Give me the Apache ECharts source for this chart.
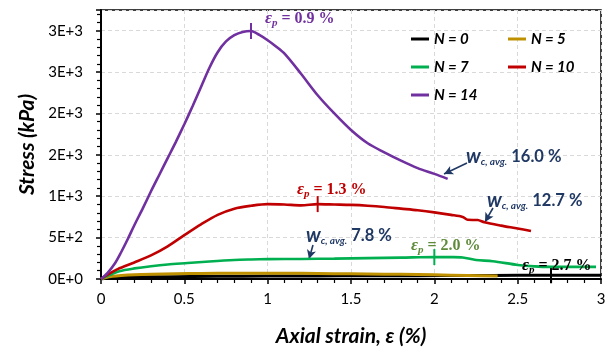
<!DOCTYPE html>
<html><head><meta charset="utf-8">
<script src="https://cdn.jsdelivr.net/npm/echarts@6/dist/echarts.min.js"></script>
<style>html,body{margin:0;padding:0;background:#fff}#c{width:611px;height:354px}</style>
</head><body><div id="c"></div>
<script>
// ---- data ----
const seriesNames = ['N = 0', 'N = 5', 'N = 7', 'N = 10', 'N = 14'];
const seriesColors = ['#000000', '#BF9000', '#00B050', '#C00000', '#7030A0'];

const strainN0 = [0, 0.05, 0.1, 0.2, 0.4, 0.7, 1.0, 1.3, 1.6, 1.9, 2.2, 2.5, 2.7, 2.85, 3.0];
const stressN0 = [0, 12, 18, 24, 28, 32, 35, 37, 39, 40, 42, 44, 45, 45, 45];

const strainN5 = [0, 0.03, 0.07, 0.12, 0.2, 0.3, 0.45, 0.6, 0.8, 1.0, 1.2, 1.4, 1.6, 1.8, 2.0, 2.2, 2.38];
const stressN5 = [0, 18, 32, 42, 52, 58, 63, 67, 70, 70, 68, 64, 60, 56, 50, 42, 35];

const strainN7 = [0, 0.03, 0.06, 0.11, 0.2, 0.3, 0.4, 0.52, 0.65, 0.8, 0.9, 1.0, 1.2, 1.4, 1.6, 1.8, 2.0, 2.1, 2.17, 2.25, 2.35, 2.5, 2.6, 2.7, 2.85, 2.97];
const stressN7 = [0, 30, 55, 95, 128, 155, 176, 193, 212, 230, 236, 240, 242, 246, 252, 258, 265, 264, 260, 230, 215, 170, 152, 146, 146, 146];

const strainN10 = [0, 0.05, 0.1, 0.2, 0.3, 0.4, 0.5, 0.6, 0.7, 0.8, 0.9, 1.0, 1.1, 1.2, 1.3, 1.4, 1.5, 1.6, 1.7, 1.8, 1.9, 2.0, 2.1, 2.17, 2.2, 2.26, 2.3, 2.4, 2.5, 2.58];
const stressN10 = [0, 65, 120, 200, 285, 395, 530, 660, 775, 850, 885, 905, 900, 890, 905, 900, 895, 885, 870, 850, 830, 805, 775, 750, 715, 712, 685, 645, 610, 580];

const strainN14 = [0, 0.04, 0.084, 0.12, 0.16, 0.2, 0.25, 0.3, 0.35, 0.4, 0.45, 0.5, 0.55, 0.6, 0.65, 0.7, 0.75, 0.8, 0.85, 0.9, 0.95, 1.0, 1.05, 1.1, 1.2, 1.3, 1.4, 1.5, 1.6, 1.7, 1.8, 1.9, 2.0, 2.08];
const stressN14 = [0, 75, 190, 320, 480, 650, 850, 1060, 1260, 1460, 1660, 1870, 2090, 2320, 2550, 2740, 2870, 2945, 2985, 2996, 2950, 2885, 2810, 2725, 2480, 2220, 2000, 1800, 1640, 1530, 1430, 1340, 1270, 1210];

const peakSeries = [0, 2, 3, 4];
const peakStrain = [2.7, 2.0, 1.3, 0.9];
const peakStress = [45, 265, 905, 2996];

const arrowFrom = [[2.196, 1401], [2.352, 858], [1.272, 411]];
const arrowTo   = [[2.058, 1269], [2.304, 689], [1.248, 242]];

const xTickValues = [0, 0.5, 1, 1.5, 2, 2.5, 3];
const xTickLabels = ['0', '0.5', '1', '1.5', '2', '2.5', '3'];
const yTickValues = [0, 500, 1000, 1500, 2000, 2500, 3000];
const yTickLabels = ['0E+0', '5E+2', '1E+3', '2E+3', '2E+3', '3E+3', '3E+3'];

const epsLabels = ['0.9 %', '1.3 %', '2.0 %', '2.7 %'];
const wcLabels = ['16.0 %', '12.7 %', '7.8 %'];

// ---- chart ----
const strains = [strainN0, strainN5, strainN7, strainN10, strainN14];
const stresses = [stressN0, stressN5, stressN7, stressN10, stressN14];
const NAVY = '#203864';
const SANS = 'Lato';
const SERIF = 'Liberation Serif';

const series = seriesNames.map((name, i) => {
  const s = {
    name, type: 'line', showSymbol: false, smooth: 0.3,
    lineStyle: { color: seriesColors[i], width: i < 2 ? 3 : 2.6 },
    itemStyle: { color: seriesColors[i] },
    data: strains[i].map((x, k) => [x, stresses[i][k]]),
    z: 3 + i
  };
  const pk = peakSeries.indexOf(i);
  if (pk >= 0) {
    s.markPoint = {
      silent: true, symbol: 'rect', symbolSize: [2, 16],
      itemStyle: { color: seriesColors[i] }, label: { show: false },
      data: [{ coord: [peakStrain[pk], peakStress[pk]] }]
    };
  }
  return s;
});
series.push({
  type: 'line', data: [], silent: true,
  markLine: {
    silent: true, symbol: ['none', 'arrow'], symbolSize: [7, 9],
    lineStyle: { color: NAVY, width: 1.6, type: 'solid' }, label: { show: false },
    data: arrowFrom.map((a, k) => [{ coord: a }, { coord: arrowTo[k] }])
  }
});

function epsText(val, color, x, y) {
  return {
    type: 'text', x, y, z: 100,
    style: {
      text: '{e|ε}{s|p}{t| = ' + val + '}', verticalAlign: 'middle', align: 'left',
      rich: {
        e: { fill: color, fontFamily: SERIF, fontStyle: 'italic', fontWeight: 'bold', fontSize: 17, lineHeight: 20 },
        s: { fill: color, fontFamily: SERIF, fontStyle: 'italic', fontWeight: 'bold', fontSize: 11, lineHeight: 6, verticalAlign: 'bottom' },
        t: { fill: color, fontFamily: SERIF, fontWeight: 'bold', fontSize: 16, lineHeight: 20 }
      }
    }
  };
}
function wcText(val, x, y) {
  return {
    type: 'text', x, y, z: 100,
    style: {
      text: '{w|w}{s|c, avg.}{t| ' + val + '}', verticalAlign: 'middle', align: 'left',
      rich: {
        w: { fill: NAVY, fontFamily: SANS, fontStyle: 'italic', fontWeight: 'bold', fontSize: 20, lineHeight: 20 },
        s: { fill: NAVY, fontFamily: SANS, fontStyle: 'italic', fontWeight: 'bold', fontSize: 10, lineHeight: 8, verticalAlign: 'bottom' },
        t: { fill: NAVY, fontFamily: SANS, fontWeight: 'bold', fontSize: 16.5, lineHeight: 20 }
      }
    }
  };
}

const chart = echarts.init(document.getElementById('c'), null, { renderer: 'canvas' });
chart.setOption({
  animation: false,
  backgroundColor: '#fff',
  grid: { left: 101, right: 10, top: 10, bottom: 75, show: true, borderColor: '#000', borderWidth: 1.5, containLabel: false },
  legend: {
    data: seriesNames, left: 406, top: 20, width: 200, itemGap: 0, itemWidth: 18, itemHeight: 3,
    icon: 'rect', selectedMode: false,
    textStyle: { fontFamily: SANS, fontWeight: 'bold', fontStyle: 'italic', fontSize: 15, color: '#000', width: 74, lineHeight: 28 }
  },
  xAxis: {
    type: 'value', min: 0, max: 3, interval: 0.5,
    name: 'Axial strain, ε (%)', nameLocation: 'middle', nameGap: 47,
    nameTextStyle: { fontFamily: SANS, fontWeight: 'bold', fontStyle: 'italic', fontSize: 21, color: '#000' },
    axisLine: { show: true, onZero: false, lineStyle: { color: '#000', width: 2 } },
    axisTick: { show: true, inside: false, length: 5, lineStyle: { color: '#000', width: 1.5 } },
    minorTick: { show: true, splitNumber: 5, length: 4, lineStyle: { color: '#000', width: 1.2 } },
    axisLabel: { margin: 13, fontFamily: SANS, fontSize: 15, color: '#000',
      formatter: v => { const i = xTickValues.findIndex(t => Math.abs(t - v) < 1e-9); return i >= 0 ? xTickLabels[i] : ''; } },
    splitLine: { show: true, lineStyle: { color: '#d9d9d9', type: [4, 3], width: 1 } }
  },
  yAxis: {
    type: 'value', min: 0, max: 3250, interval: 500,
    name: 'Stress (kPa)', nameLocation: 'middle', nameGap: 60, nameRotate: 90,
    nameTextStyle: { fontFamily: SANS, fontWeight: 'bold', fontStyle: 'italic', fontSize: 21, color: '#000' },
    axisLine: { show: true, onZero: false, lineStyle: { color: '#000', width: 2 } },
    axisTick: { show: true, inside: false, length: 5, lineStyle: { color: '#000', width: 1.5 } },
    minorTick: { show: true, splitNumber: 5, length: 4, lineStyle: { color: '#000', width: 1.2 } },
    axisLabel: { margin: 18, fontFamily: SANS, fontSize: 15, color: '#000',
      formatter: v => { const i = yTickValues.indexOf(v); return i >= 0 ? yTickLabels[i] : ''; } },
    splitLine: { show: true, lineStyle: { color: '#d9d9d9', type: [4, 3], width: 1 } }
  },
  series,
  graphic: [
    epsText(epsLabels[0], '#7030A0', 265, 19),
    epsText(epsLabels[1], '#C00000', 297, 190),
    epsText(epsLabels[2], '#5E8B3A', 411, 246),
    epsText(epsLabels[3], '#000000', 522, 266),
    wcText(wcLabels[0], 466, 157),
    wcText(wcLabels[1], 487, 201),
    wcText(wcLabels[2], 306, 236)
  ]
});
</script></body></html>
